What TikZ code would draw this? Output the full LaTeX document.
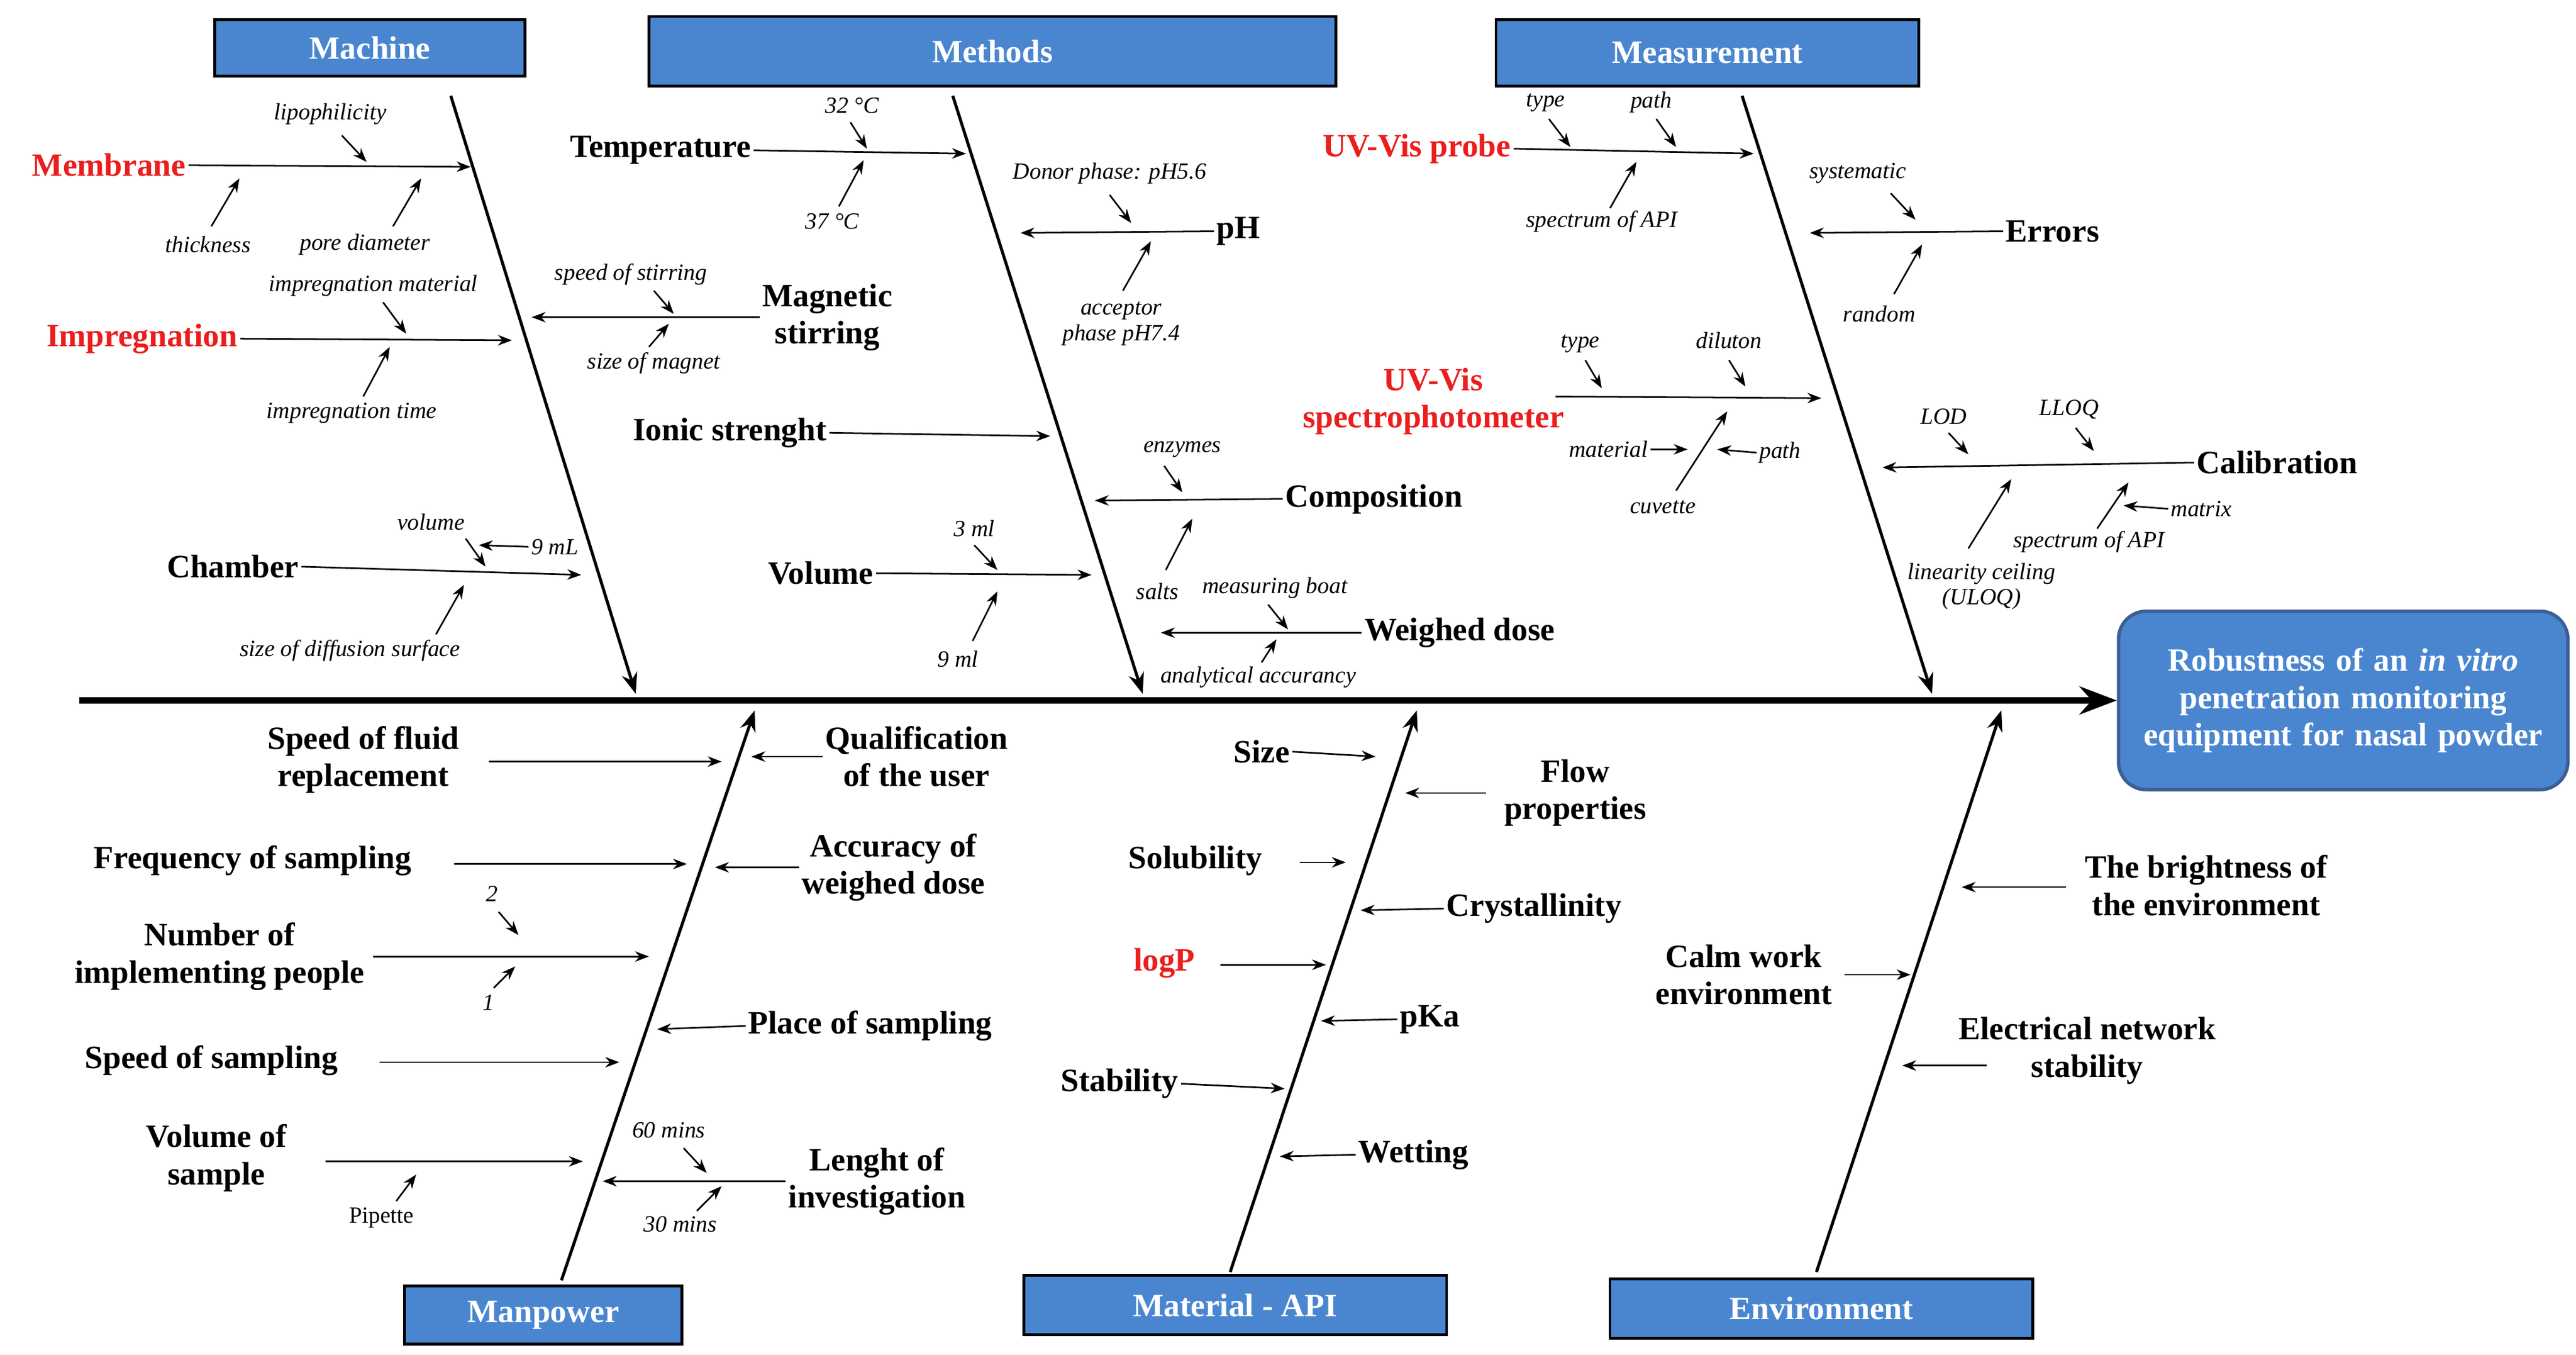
\documentclass[tikz,border=0pt]{standalone}
\usepackage{fontspec}
\setmainfont{Liberation Serif}
\usetikzlibrary{arrows.meta}
\definecolor{boxblue}{RGB}{74,134,208}
\definecolor{boxedge}{RGB}{60,95,150}
\definecolor{causered}{RGB}{235,30,30}
\tikzset{
cause/.style={font=\fontsize{14}{16}\selectfont\bfseries, align=center, inner sep=1pt},
redcause/.style={cause, text=causered},
sub/.style={font=\fontsize{10}{11}\selectfont\itshape, align=center, inner sep=1pt},
catbox/.style={draw=black, line width=1.2pt, fill=boxblue, text=white, font=\fontsize{14}{16}\selectfont\bfseries},
effect/.style={draw=boxedge, line width=1.5pt, fill=boxblue, text=white, rounded corners=12pt, font=\fontsize{14}{16}\selectfont\bfseries, align=center},
bone/.style={line width=1.3pt, -{Stealth[length=9pt]}},
arr/.style={line width=0.7pt, -{Stealth[length=6pt]}}}

\begin{document}
\begin{tikzpicture}[x=0.025cm, y=-0.025cm]
\useasboundingbox (0,0) rectangle (1560,820);
% spine and effect
\node [effect, minimum width=6.8cm, minimum height=2.7cm, text width=6.3cm] (eff) at (1419,424) {Robustness of an \textit{in vitro} penetration monitoring equipment for nasal powder};
\coordinate (s0) at (48,424);
\draw [line width=3pt, -{Stealth[length=16pt]}] (s0) -- (eff.west);
% category boxes
\node [catbox, minimum width=4.7cm, minimum height=0.85cm] (mach) at (224,29) {Machine};
\node [catbox, minimum width=10.4cm, minimum height=1.05cm] (meth) at (601,31) {Methods};
\node [catbox, minimum width=6.4cm, minimum height=1cm] (meas) at (1034,32) {Measurement};
\node [catbox, minimum width=4.2cm, minimum height=0.88cm] (manp) at (329,796) {Manpower};
\node [catbox, minimum width=6.4cm, minimum height=0.9cm] (matl) at (748,790) {Material - API};
\node [catbox, minimum width=6.4cm, minimum height=0.9cm] (envi) at (1103,792) {Environment};
\foreach \a/\b/\c/\d [count=\i] in {273/58/385/420, 577/58/692/420, 1055/58/1170/420, 340/775/457/430, 745/770/858/430, 1100/770/1212/430}{
  \coordinate (b\i a) at (\a,\b);
  \coordinate (b\i b) at (\c,\d);
  \draw [bone] (b\i a) -- (b\i b);
}
% Machine
\node [redcause] (membr) at (66,100) {Membrane};
\draw [arr] (membr.east) -- (285,101);
\node [sub] (lipo) at (200,69) {lipophilicity};
\draw [arr] (207,82) -- (222,98);
\node [sub] (thick) at (126,148) {thickness};
\draw [arr] (128,137) -- (145,108);
\node [sub] (pore) at (221,148) {pore diameter};
\draw [arr] (238,137) -- (255,108);
\node [redcause] (impr) at (86,205) {Impregnation};
\draw [arr] (impr.east) -- (310,206);
\node [sub] (imat) at (226,173) {impregnation material};
\draw [arr] (232,183) -- (246,202);
\node [sub] (itime) at (213,250) {impregnation time};
\draw [arr] (220,240) -- (236,210);
\node [cause] (magn) at (501,192) {Magnetic\\stirring};
\draw [arr] (magn.west) -- (322,192);
\node [sub] (spst) at (382,166) {speed of stirring};
\draw [arr] (396,176) -- (408,190);
\node [sub] (szmg) at (396,220) {size of magnet};
\draw [arr] (393,210) -- (405,196);
\node [cause] (chamb) at (141,343) {Chamber};
\draw [arr] (chamb.east) -- (352,348);
\node [sub] (vol) at (261,316) {volume};
\draw [arr] (282,326) -- (294,343);
\node [sub] (nine) at (336,331) {9 mL};
\draw [arr] (nine.west) -- (290,330);
\node [sub] (diff) at (212,394) {size of diffusion surface};
\draw [arr] (264,384) -- (281,354);
% Methods
\node [cause] (temp) at (400,91) {Temperature};
\draw [arr] (temp.east) -- (585,93);
\node [sub] (t32) at (516,64) {32 °C};
\draw [arr] (515,74) -- (525,90);
\node [sub] (t37) at (504,134) {37 °C};
\draw [arr] (508,125) -- (523,97);
\node [sub] (donor) at (672,105) {Donor phase: pH5.6};
\draw [arr] (672,118) -- (685,135);
\node [cause] (ph) at (750,140) {pH};
\draw [arr] (ph.west) -- (618,141);
\node [sub] (accp) at (679,196) {acceptor\\phase pH7.4};
\draw [arr] (680,176) -- (697,146);
\node [cause] (ionic) at (442,262) {Ionic strenght};
\draw [arr] (ionic.east) -- (636,264);
\node [sub] (enz) at (716,272) {enzymes};
\draw [arr] (705,282) -- (716,298);
\node [cause] (comp) at (832,302) {Composition};
\draw [arr] (comp.west) -- (663,303);
\node [sub] (salts) at (701,358) {salts};
\draw [arr] (706,345) -- (722,314);
\node [cause] (volm) at (497,347) {Volume};
\draw [arr] (volm.east) -- (661,348);
\node [sub] (ml3) at (590,320) {3 ml};
\draw [arr] (590,330) -- (604,345);
\node [sub] (ml9) at (580,399) {9 ml};
\draw [arr] (589,388) -- (604,358);
\node [cause] (wdose) at (884,383) {Weighed dose};
\draw [arr] (wdose.west) -- (703,383);
\node [sub] (mboat) at (772,356) {measuring boat};
\draw [arr] (768,366) -- (780,381);
\node [sub] (anacc) at (762,410) {analytical accurancy};
\draw [arr] (764,401) -- (773,387);
% Measurement
\node [redcause] (uvp) at (858,90) {UV-Vis probe};
\draw [arr] (uvp.east) -- (1062,93);
\node [sub] (typ1) at (936,62) {type};
\draw [arr] (938,72) -- (951,89);
\node [sub] (path1) at (1000,62) {path};
\draw [arr] (1003,72) -- (1015,89);
\node [sub] (spec1) at (970,134) {spectrum of API};
\draw [arr] (975,126) -- (991,98);
\node [cause] (err) at (1243,140) {Errors};
\draw [arr] (err.west) -- (1096,141);
\node [sub] (syst) at (1125,105) {systematic};
\draw [arr] (1145,117) -- (1160,133);
\node [sub] (rand) at (1138,190) {random};
\draw [arr] (1147,178) -- (1164,148);
\node [redcause] (uvs) at (868,243) {UV-Vis\\spectrophotometer};
\draw [arr] (942,240) -- (1103,241);
\node [sub] (typ2) at (957,208) {type};
\draw [arr] (960,218) -- (970,235);
\node [sub] (dil) at (1047,206) {diluton};
\draw [arr] (1047,218) -- (1057,234);
\node [sub] (mat) at (974,272) {material};
\draw [arr] (mat.east) -- (1022,272);
\node [sub] (path2) at (1078,274) {path};
\draw [arr] (path2.west) -- (1040,272);
\node [sub] (cuv) at (1007,307) {cuvette};
\draw [arr] (1015,297) -- (1046,249);
\node [cause] (calib) at (1379,280) {Calibration};
\draw [arr] (calib.west) -- (1140,283);
\node [sub] (lod) at (1177,252) {LOD};
\draw [arr] (1180,262) -- (1192,275);
\node [sub] (lloq) at (1253,248) {LLOQ};
\draw [arr] (1257,259) -- (1268,273);
\node [sub] (matrix) at (1333,308) {matrix};
\draw [arr] (matrix.west) -- (1286,306);
\node [sub] (spec2) at (1265,328) {spectrum of API};
\draw [arr] (1270,320) -- (1289,292);
\node [sub] (uloq) at (1200,355) {linearity ceiling\\(ULOQ)};
\draw [arr] (1192,332) -- (1218,290);
% Manpower
\node [cause] (fluid) at (220,460) {Speed of fluid\\replacement};
\draw [arr] (296,461) -- (437,461);
\node [cause] (qual) at (555,458) {Qualification\\of the user};
\draw [arr] (qual.west) -- (455,458);
\node [cause] (freq) at (153,521) {Frequency of sampling};
\draw [arr] (275,523) -- (416,523);
\node [cause] (accw) at (541,525) {Accuracy of\\weighed dose};
\draw [arr] (accw.west) -- (433,525);
\node [cause] (numb) at (133,579) {Number of\\implementing people};
\draw [arr] (226,579) -- (393,579);
\node [sub] (two) at (298,541) {2};
\draw [arr] (302,552) -- (314,566);
\node [sub] (one) at (296,607) {1};
\draw [arr] (299,598) -- (312,585);
\node [cause] (place) at (527,621) {Place of sampling};
\draw [arr] (place.west) -- (398,623);
\node [cause] (spsam) at (128,642) {Speed of sampling};
\draw [arr] (230,643) -- (375,643);
\node [cause] (vsam) at (131,701) {Volume of\\sample};
\draw [arr] (197,703) -- (353,703);
\node [sub, font=\fontsize{10}{11}\selectfont] (pip) at (231,737) {Pipette};
\draw [arr] (240,727) -- (252,711);
\node [cause] (lenght) at (531,715) {Lenght of\\investigation};
\draw [arr] (lenght.west) -- (365,715);
\node [sub] (m60) at (405,684) {60 mins};
\draw [arr] (414,695) -- (428,710);
\node [sub] (m30) at (412,741) {30 mins};
\draw [arr] (422,733) -- (437,718);
% Material - API
\node [cause] (size) at (764,455) {Size};
\draw [arr] (size.east) -- (833,458);
\node [cause] (flow) at (954,480) {Flow\\properties};
\draw [arr] (900,480) -- (851,480);
\node [cause] (solu) at (724,521) {Solubility};
\draw [arr] (787,522) -- (815,522);
\node [cause] (cryst) at (929,550) {Crystallinity};
\draw [arr] (cryst.west) -- (824,551);
\node [redcause] (logp) at (705,583) {logP};
\draw [arr] (739,584) -- (803,584);
\node [cause] (pka) at (866,617) {pKa};
\draw [arr] (pka.west) -- (800,618);
\node [cause] (stab) at (678,656) {Stability};
\draw [arr] (stab.east) -- (778,659);
\node [cause] (wett) at (856,699) {Wetting};
\draw [arr] (wett.west) -- (775,700);
% Environment
\node [cause] (bright) at (1336,536) {The brightness of\\the environment};
\draw [arr] (1251,537) -- (1188,537);
\node [cause] (calm) at (1056,590) {Calm work\\environment};
\draw [arr] (1117,590) -- (1157,590);
\node [cause] (elec) at (1264,636) {Electrical network\\stability};
\draw [arr] (1203,645) -- (1152,645);
\end{tikzpicture}
\end{document}
